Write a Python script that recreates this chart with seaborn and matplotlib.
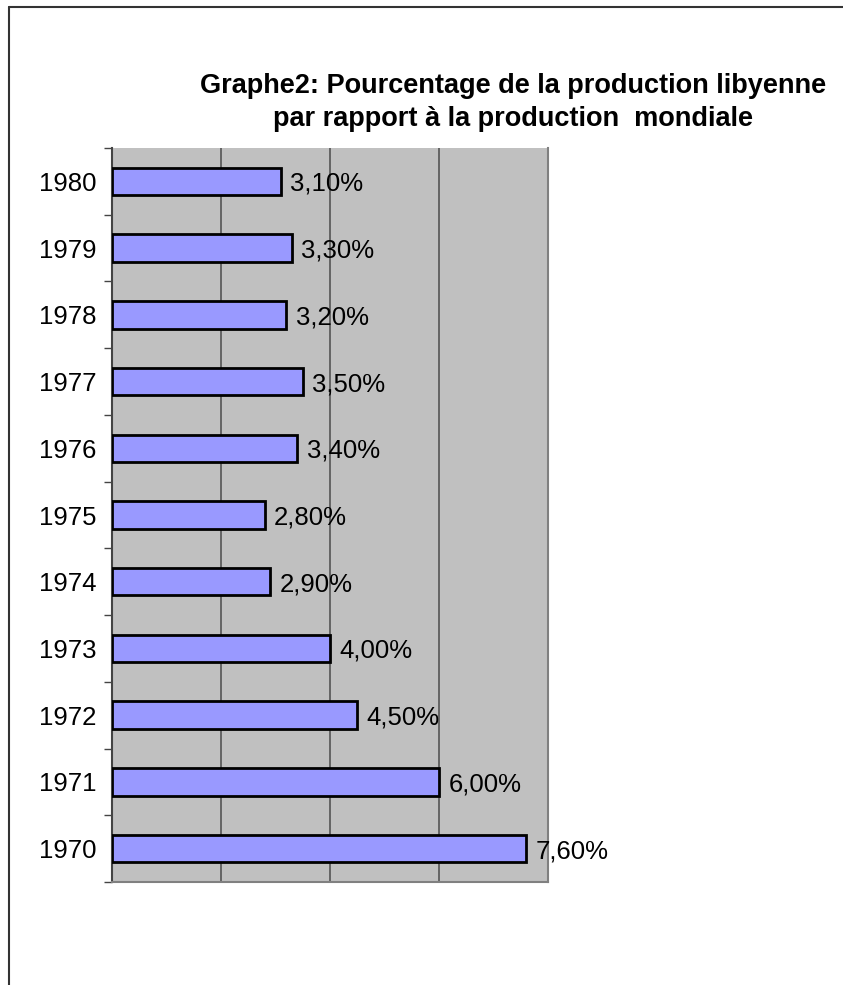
import matplotlib
matplotlib.use("Agg")
import matplotlib.pyplot as plt
from matplotlib.lines import Line2D
from matplotlib.ticker import FixedLocator
import numpy as np
import pandas as pd
import seaborn as sns

years = ["1980", "1979", "1978", "1977", "1976", "1975", "1974", "1973", "1972", "1971", "1970"]
shares = [3.1, 3.3, 3.2, 3.5, 3.4, 2.8, 2.9, 4.0, 4.5, 6.0, 7.6]
labels = ["3,10%", "3,30%", "3,20%", "3,50%", "3,40%", "2,80%", "2,90%", "4,00%", "4,50%", "6,00%", "7,60%"]

sns.set_theme(style="white")
plt.rcParams["font.family"] = ["Liberation Sans", "DejaVu Sans"]

df = pd.DataFrame({"year": years, "share": shares})

fig = plt.figure(figsize=(8.43, 9.85), dpi=100)
ax = fig.add_axes([0.1329, 0.1046, 0.5172, 0.7451])
ax.set_facecolor("#c0c0c0")

sns.barplot(data=df, x="share", y="year", order=years, color="#9999ff",
            saturation=1, width=0.41, edgecolor="black", linewidth=2, ax=ax, zorder=3)

for i, (v, lab) in enumerate(zip(shares, labels)):
    ax.text(v + 0.17, i, lab, va="center_baseline", ha="left", fontsize=18.5, color="black", zorder=4)

ax.set_xlim(0, 8)
ax.set_ylim(len(years) - 0.5, -0.5)
ax.set_xticks([2, 4, 6])
ax.set_xticklabels([])
ax.tick_params(axis="x", length=0)
ax.grid(axis="x", color="#555555", linewidth=1.2, zorder=1)
ax.set_axisbelow(True)

ax.yaxis.set_minor_locator(FixedLocator(np.arange(-0.5, len(years), 1.0)))
ax.tick_params(axis="y", which="major", length=0, labelsize=18.5, pad=11, labelcolor="black")
ax.tick_params(axis="y", which="minor", length=6, width=1, color="#444444", left=True)
for t in ax.get_yticklabels():
    t.set_verticalalignment("center_baseline")

ax.set_xlabel("")
ax.set_ylabel("")
ax.spines["top"].set_visible(False)
ax.spines["left"].set_color("#444444")
ax.spines["left"].set_linewidth(1.5)
ax.spines["bottom"].set_color("#808080")
ax.spines["bottom"].set_linewidth(1.5)
ax.spines["right"].set_color("#808080")
ax.spines["right"].set_linewidth(1.5)

fig.text(0.609, 0.896, "Graphe2: Pourcentage de la production libyenne\npar rapport à la production  mondiale",
         ha="center", va="center", fontsize=19.5, fontweight="bold", color="black", linespacing=1.32)

fig.add_artist(Line2D([9 / 843, 9 / 843], [0, 1 - 7 / 985], color="#333333", linewidth=1.5))
fig.add_artist(Line2D([9 / 843, 1], [1 - 7 / 985, 1 - 7 / 985], color="#333333", linewidth=1.5))

plt.savefig("out.png", dpi=100)
plt.close()
